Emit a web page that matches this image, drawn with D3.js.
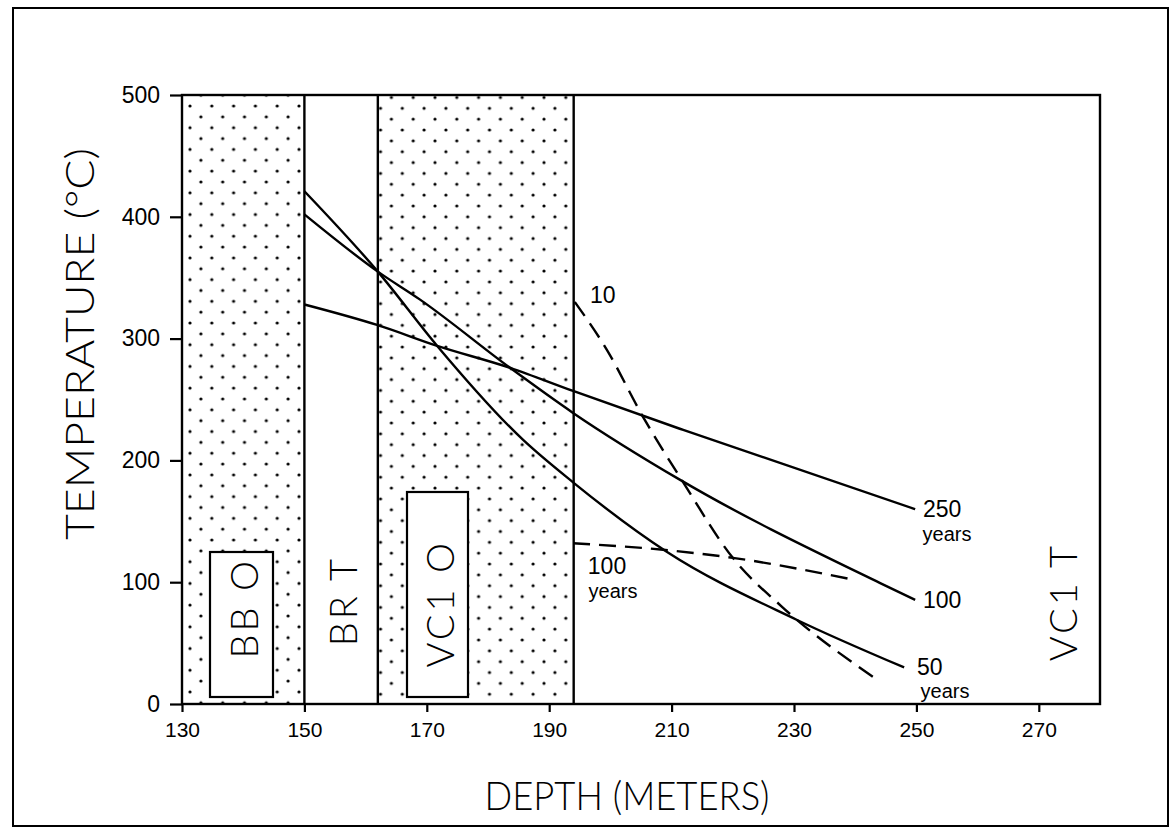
<!DOCTYPE html>
<html>
<head>
<meta charset="utf-8">
<script src="https://cdn.jsdelivr.net/npm/d3@7"></script>
<style>
  html, body { margin: 0; padding: 0; background: #fff; }
  svg { display: block; }
</style>
</head>
<body>
<svg id="chart" width="1171" height="830"></svg>
<script>
// Temperature profiles versus depth through the stratigraphic units

const depthTicks = [130, 150, 170, 190, 210, 230, 250, 270];
const tempTicks = [0, 100, 200, 300, 400, 500];

// Stratigraphic units (depth intervals in metres)
const unitNames = ["BB O", "BR T", "VC1 O", "VC1 T"];
const unitTop = [130, 150, 162, 194];
const unitBottom = [150, 162, 194, 280];

// Solid profiles (years after emplacement)
const depth250 = [150, 162, 171.7, 183.6, 193.9, 211.9, 249.8];
const temp250 = [328, 311, 294, 276, 257, 225, 160];

const depth100 = [150, 162, 168.9, 183.6, 193.9, 211.4, 244, 249.8];
const temp100 = [402, 355, 332, 276, 239, 184, 99.5, 85.5];

const depth50 = [150, 162, 171.7, 185.7, 193.9, 209.2, 230.5, 248];
const temp50 = [421, 355, 294, 217, 182, 125, 69, 30];

// Dashed profiles
const depth10d = [194.2, 199.4, 205.3, 211.9, 220, 228, 243];
const temp10d = [330, 291, 236, 182, 120, 80, 22];

const depth100d = [193.9, 208.6, 220, 238.8];
const temp100d = [132, 126.6, 120, 103];

const svg = d3.select("#chart");

const x = d3.scaleLinear().domain([130, 280]).range([182, 1100]);
const y = d3.scaleLinear().domain([0, 500]).range([704, 95]);

const lightFont = "Lato, 'Open Sans', 'DejaVu Sans', sans-serif";
const tickFont = "'Liberation Sans', Arial, sans-serif";

// Outer frame
svg.append("rect")
  .attr("x", 13).attr("y", 8).attr("width", 1155).attr("height", 818)
  .attr("fill", "none").attr("stroke", "#000").attr("stroke-width", 2);

// Dot pattern for the O units
const defs = svg.append("defs");
function dotPattern(id, ox, oy) {
  const p = defs.append("pattern")
    .attr("id", id).attr("patternUnits", "userSpaceOnUse")
    .attr("x", ox).attr("y", oy)
    .attr("width", 21.8).attr("height", 21.7);
  const pts = [[0, 0], [21.8, 0], [0, 21.7], [21.8, 21.7], [10.9, 10.85]];
  p.selectAll("circle").data(pts).join("circle")
    .attr("cx", d => d[0]).attr("cy", d => d[1])
    .attr("r", 1.6).attr("fill", "#000");
}
dotPattern("dots0", 190, 106);
dotPattern("dots2", 402.3, 108.3);

const units = unitNames.map((name, i) => ({
  name, top: unitTop[i], bottom: unitBottom[i], i
}));

svg.append("g").selectAll("rect")
  .data(units.filter(u => u.name.endsWith("O")))
  .join("rect")
  .attr("x", d => x(d.top))
  .attr("y", y(500))
  .attr("width", d => x(d.bottom) - x(d.top))
  .attr("height", y(0) - y(500))
  .attr("fill", d => `url(#dots${d.i})`);

// Unit boundaries
svg.append("g").selectAll("line")
  .data(unitTop.slice(1))
  .join("line")
  .attr("x1", d => x(d)).attr("x2", d => x(d))
  .attr("y1", y(500)).attr("y2", y(0))
  .attr("stroke", "#000").attr("stroke-width", 2.4);

// Unit label boxes (white, outlined)
const labelBoxes = [
  { name: "BB O", x0: 210, x1: 273, y0: 552, y1: 697 },
  { name: "VC1 O", x0: 407, x1: 468, y0: 492, y1: 697 }
];
svg.append("g").selectAll("rect")
  .data(labelBoxes)
  .join("rect")
  .attr("x", d => d.x0).attr("y", d => d.y0)
  .attr("width", d => d.x1 - d.x0).attr("height", d => d.y1 - d.y0)
  .attr("fill", "#fff").attr("stroke", "#000").attr("stroke-width", 2.2);

// Rotated unit names
const unitLabelPos = [
  { cx: 244, top: 558 },
  { cx: 343, top: 556 },
  { cx: 440, top: 540 },
  { cx: 1063, top: 543 }
];
svg.append("g").selectAll("text")
  .data(units)
  .join("text")
  .attr("transform", (d, i) => `translate(${unitLabelPos[i].cx},${unitLabelPos[i].top}) rotate(-90)`)
  .attr("text-anchor", "end")
  .attr("dy", "0.36em")
  .attr("font-family", lightFont)
  .attr("font-weight", 300)
  .attr("font-size", 38)
  .attr("letter-spacing", 3)
  .text(d => d.name);

// Plot border
svg.append("rect")
  .attr("x", x(130)).attr("y", y(500))
  .attr("width", x(280) - x(130)).attr("height", y(0) - y(500))
  .attr("fill", "none").attr("stroke", "#000").attr("stroke-width", 2.4);

// Axes
const yAxis = d3.axisLeft(y).tickValues(tempTicks).tickSize(12).tickPadding(10);
const gy = svg.append("g").attr("transform", `translate(${x(130)},0)`).call(yAxis);
gy.select(".domain").remove();
gy.selectAll("line").attr("stroke", "#000").attr("stroke-width", 2.2);
gy.selectAll("text")
  .attr("font-family", tickFont).attr("font-size", 23).attr("fill", "#000");

const xAxis = d3.axisBottom(x).tickValues(depthTicks).tickSize(8).tickPadding(10);
const gx = svg.append("g").attr("transform", `translate(0,${y(0)})`).call(xAxis);
gx.select(".domain").remove();
gx.selectAll("line").attr("stroke", "#000").attr("stroke-width", 2.2);
gx.selectAll("text")
  .attr("font-family", "'Liberation Sans Narrow', 'Liberation Sans', Arial, sans-serif")
  .attr("font-stretch", "condensed")
  .attr("font-size", 21).attr("fill", "#000");

// Axis titles
svg.append("text")
  .attr("x", 627).attr("y", 810)
  .attr("text-anchor", "middle")
  .attr("font-family", lightFont).attr("font-weight", 300)
  .attr("font-size", 40)
  .attr("textLength", 285).attr("lengthAdjust", "spacingAndGlyphs")
  .text("DEPTH (METERS)");

svg.append("text")
  .attr("transform", "translate(94,344) rotate(-90)")
  .attr("text-anchor", "middle")
  .attr("font-family", lightFont).attr("font-weight", 300)
  .attr("font-size", 40)
  .attr("textLength", 392).attr("lengthAdjust", "spacingAndGlyphs")
  .text("TEMPERATURE (°C)");

// Profiles
const line = d3.line()
  .x(d => x(d[0])).y(d => y(d[1]))
  .curve(d3.curveMonotoneX);

const profiles = [
  { depth: depth250, temp: temp250, dashed: false },
  { depth: depth100, temp: temp100, dashed: false },
  { depth: depth50, temp: temp50, dashed: false },
  { depth: depth10d, temp: temp10d, dashed: true },
  { depth: depth100d, temp: temp100d, dashed: true }
];

svg.append("g").selectAll("path")
  .data(profiles)
  .join("path")
  .attr("d", d => line(d.depth.map((v, i) => [v, d.temp[i]])))
  .attr("fill", "none")
  .attr("stroke", "#000")
  .attr("stroke-width", 2.4)
  .attr("stroke-dasharray", d => d.dashed ? "17,9" : null);

// Curve labels
const curveLabels = [
  { text: "10", x: 590, y: 303, anchor: "start" },
  { text: "250", x: 923, y: 517, anchor: "start" },
  { text: "years", x: 947, y: 541, anchor: "middle" },
  { text: "100", x: 923, y: 608, anchor: "start" },
  { text: "50", x: 917, y: 675, anchor: "start" },
  { text: "years", x: 945, y: 698, anchor: "middle" },
  { text: "100", x: 607, y: 574, anchor: "middle" },
  { text: "years", x: 613, y: 598, anchor: "middle" }
];
svg.append("g").selectAll("text")
  .data(curveLabels)
  .join("text")
  .attr("x", d => d.x).attr("y", d => d.y)
  .attr("text-anchor", d => d.anchor)
  .attr("font-family", tickFont)
  .attr("font-size", d => d.text === "years" ? 20 : 23)
  .text(d => d.text);
</script>
</body>
</html>
